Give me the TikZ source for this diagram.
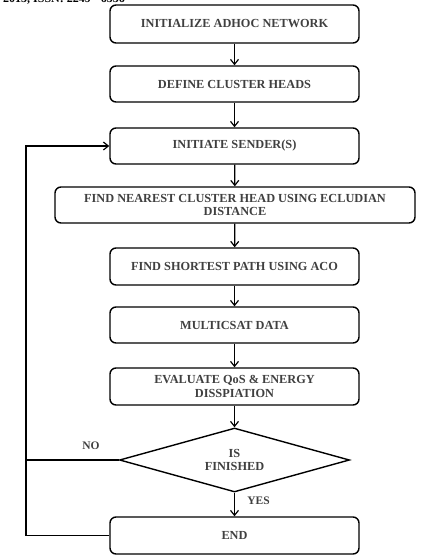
\documentclass[tikz,border=0pt]{standalone}
\usepackage{fontspec}
\setmainfont{Liberation Serif}
\usetikzlibrary{shapes.geometric,arrows.meta}
\begin{document}
\begin{tikzpicture}[x=1pt,y=-1pt,
  box/.style={draw, line width=1.4pt, rounded corners=6pt, minimum width=249pt,
    minimum height=36pt, align=center, inner sep=0pt, text=black!75,
    font=\bfseries\fontsize{12.3}{13.5}\selectfont},
  decision/.style={draw, diamond, line width=1.4pt, minimum width=230pt,
    minimum height=64pt, aspect=3.6, inner sep=0pt, align=center, text=black!75,
    font=\bfseries\fontsize{12.3}{13.5}\selectfont},
  tag/.style={text=black!75, inner sep=0pt, font=\bfseries\fontsize{11.5}{12}\selectfont},
  flow/.style={line width=1.2pt, -{Straight Barb[length=5pt,width=8pt,line width=1.2pt]}},
  plain/.style={line width=1.2pt}]
\useasboundingbox[fill=white] (0,0) rectangle (421,555);

% running header, cut by the page edge
\begin{scope}
  \clip (0,0) rectangle (421,555);
  \node[anchor=base west, inner sep=0pt, font=\bfseries\fontsize{12}{12}\selectfont]
    (hdr) at (-6,2.5) {., 2015, ISSN: 2249 - 6556};
\end{scope}

% process steps
\node[box, minimum height=38pt] (init) at (234.5,24) {INITIALIZE ADHOC NETWORK};
\node[box] (heads) at (234.5,84) {DEFINE CLUSTER HEADS};
\node[box] (send) at (234.5,146) {INITIATE SENDER(S)};
\node[box, minimum width=360pt] (near) at (235,205)
  {FIND NEAREST CLUSTER HEAD USING ECLUDIAN\\DISTANCE};
\node[box, minimum height=37pt] (path) at (234.5,266.5) {FIND SHORTEST PATH USING ACO};
\node[box] (mcast) at (234.5,325) {MULTICSAT DATA};
\node[box, minimum height=37pt] (eval) at (234.5,386.5)
  {EVALUATE QoS \& ENERGY\\DISSPIATION};
\node[decision] (done) at (234.5,460) {IS\\FINISHED};
\node[box, minimum height=37pt] (stop) at (234.5,535.5) {END};

% main flow
\draw[flow] (init) -- (heads);
\draw[flow] (heads) -- (send);
\draw[flow] (send) -- (near);
\draw[flow] (near) -- (path);
\draw[flow] (path) -- (mcast);
\draw[flow] (mcast) -- (eval);
\draw[flow] (eval) -- (done);
\draw[flow] (done) -- (stop);

% feedback loop
\coordinate (loop) at (26,535.5);
\draw[plain] (stop.west) -- (loop);
\draw[flow] (loop) |- (send.west);
\draw[plain] (done.west) -- (done.west -| loop);

% branch labels
\node[tag] (no) at (91,446) {NO};
\node[tag] (yes) at (258.5,501) {YES};
\end{tikzpicture}
\end{document}
